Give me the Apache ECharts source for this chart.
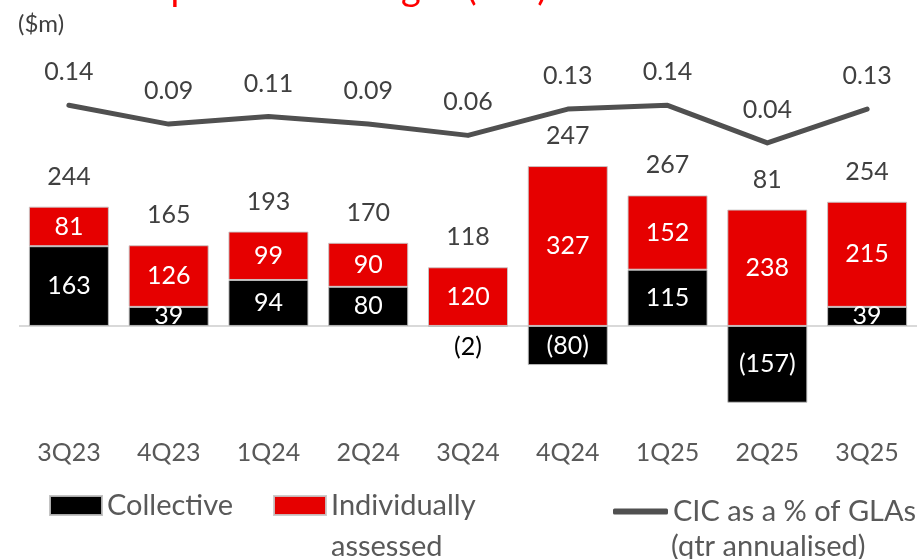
<!DOCTYPE html>
<html>
<head>
<meta charset="utf-8">
<script src="https://cdn.jsdelivr.net/npm/echarts@6/dist/echarts.min.js"></script>
<style>
html,body{margin:0;padding:0;background:#fff;}
#main{width:917px;height:559px;}
</style>
</head>
<body>
<div id="main"></div>
<script>
const categories = ['3Q23','4Q23','1Q24','2Q24','3Q24','4Q24','1Q25','2Q25','3Q25'];
const collective = [163, 39, 94, 80, -2, -80, 115, -157, 39];
const individual = [81, 126, 99, 90, 120, 327, 152, 238, 215];
const cicPct = [0.14, 0.09, 0.11, 0.09, 0.06, 0.13, 0.14, 0.04, 0.13];
const seriesNames = ['Collective', 'Individually assessed', 'CIC as a % of GLAs (qtr annualised)'];
const legendLine1 = ['Collective', 'Individually', 'CIC as a % of GLAs'];
const legendLine2 = ['', 'assessed', '(qtr annualised)'];
const titleText = 'Credit impairment charges (CIC)';
const unitText = '($m)';

const FONT = 'Lato';
const RED = '#e60000';
const fmt = v => v < 0 ? '(' + Math.abs(v) + ')' : String(v);

const totals = categories.map((c, i) => collective[i] + individual[i]);
const posTops = categories.map((c, i) => Math.max(0, collective[i]) + Math.max(0, individual[i]));

const chart = echarts.init(document.getElementById('main'), null, {renderer: 'canvas'});

const legendBase = {
  orient: 'horizontal', padding: 0, selectedMode: false, top: 491,
  itemHeight: 19, itemWidth: 52,
  textStyle: {fontSize: 29, color: '#595959', fontFamily: FONT}
};

chart.setOption({
  animation: false,
  grid: {left: 19, right: -8, top: 57, bottom: 135.25, containLabel: false},
  xAxis: {
    type: 'category', data: categories,
    axisLine: {show: false}, axisTick: {show: false},
    axisLabel: {fontSize: 25, color: '#595959', fontFamily: FONT, margin: 17}
  },
  yAxis: [
    {type: 'value', min: -200, max: 550, show: false, splitLine: {show: false}},
    {type: 'value', min: -0.70671, max: 0.26842, show: false, splitLine: {show: false}}
  ],
  legend: [
    Object.assign({}, legendBase, {left: 49, data: [{name: seriesNames[0], icon: 'rect'}], formatter: () => legendLine1[0]}),
    Object.assign({}, legendBase, {left: 273, data: [{name: seriesNames[1], icon: 'rect'}], formatter: () => legendLine1[1]}),
    Object.assign({}, legendBase, {left: 613, top: 497, itemWidth: 55, itemHeight: 6, data: [{name: seriesNames[2], icon: 'roundRect'}], formatter: () => legendLine1[2]})
  ],
  graphic: [
    {type: 'text', left: 18, top: 12, style: {text: unitText, font: '24px ' + FONT, fill: '#404040'}},
    {type: 'text', x: 18, y: 7, style: {text: titleText, font: '38px ' + FONT, fill: '#ff0000', verticalAlign: 'bottom'}},
    {type: 'text', left: 331, top: 532, style: {text: legendLine2[1], font: '29px ' + FONT, fill: '#595959'}},
    {type: 'text', left: 671, top: 532, style: {text: legendLine2[2], font: '29px ' + FONT, fill: '#595959'}}
  ],
  series: [
    {
      name: seriesNames[0], type: 'bar', stack: 'a', barWidth: 80,
      itemStyle: {color: '#000000', borderColor: 'rgba(190,190,190,0.9)', borderWidth: 1},
      label: {show: true, position: 'inside', color: '#ffffff', fontSize: 25, fontFamily: FONT,
        formatter: p => fmt(p.value)},
      data: collective.map(v => Math.abs(v) < 20
        ? {value: v, label: {position: 'bottom', distance: 7, color: '#000000'}}
        : v),
      markLine: {
        silent: true, symbol: 'none', label: {show: false},
        lineStyle: {color: '#d9d9d9', width: 2, type: 'solid'},
        data: [{yAxis: 0}], z: 1
      }
    },
    {
      name: seriesNames[1], type: 'bar', stack: 'a', barWidth: 80,
      itemStyle: {color: RED, borderColor: 'rgba(200,200,200,0.9)', borderWidth: 1},
      label: {show: true, position: 'inside', color: '#ffffff', fontSize: 25, fontFamily: FONT,
        formatter: p => fmt(p.value)},
      data: individual
    },
    {
      name: 'total', type: 'scatter', symbol: 'circle', symbolSize: 1,
      itemStyle: {color: '#ffffff', opacity: 1},
      label: {show: true, position: 'top', distance: 17, color: '#404040', fontSize: 25, fontFamily: FONT,
        formatter: p => fmt(totals[p.dataIndex])},
      data: posTops, z: 1
    },
    {
      name: seriesNames[2], type: 'line', yAxisIndex: 1, symbol: 'circle', symbolSize: 1, showSymbol: true, z: 6,
      lineStyle: {color: '#505050', width: 5, cap: 'round', join: 'round'},
      itemStyle: {color: '#505050'},
      label: {show: true, position: 'top', distance: 20, color: '#404040', fontSize: 25, fontFamily: FONT,
        formatter: p => p.value.toFixed(2)},
      labelLayout: {hideOverlap: false},
      data: cicPct
    }
  ]
});
</script>
</body>
</html>
